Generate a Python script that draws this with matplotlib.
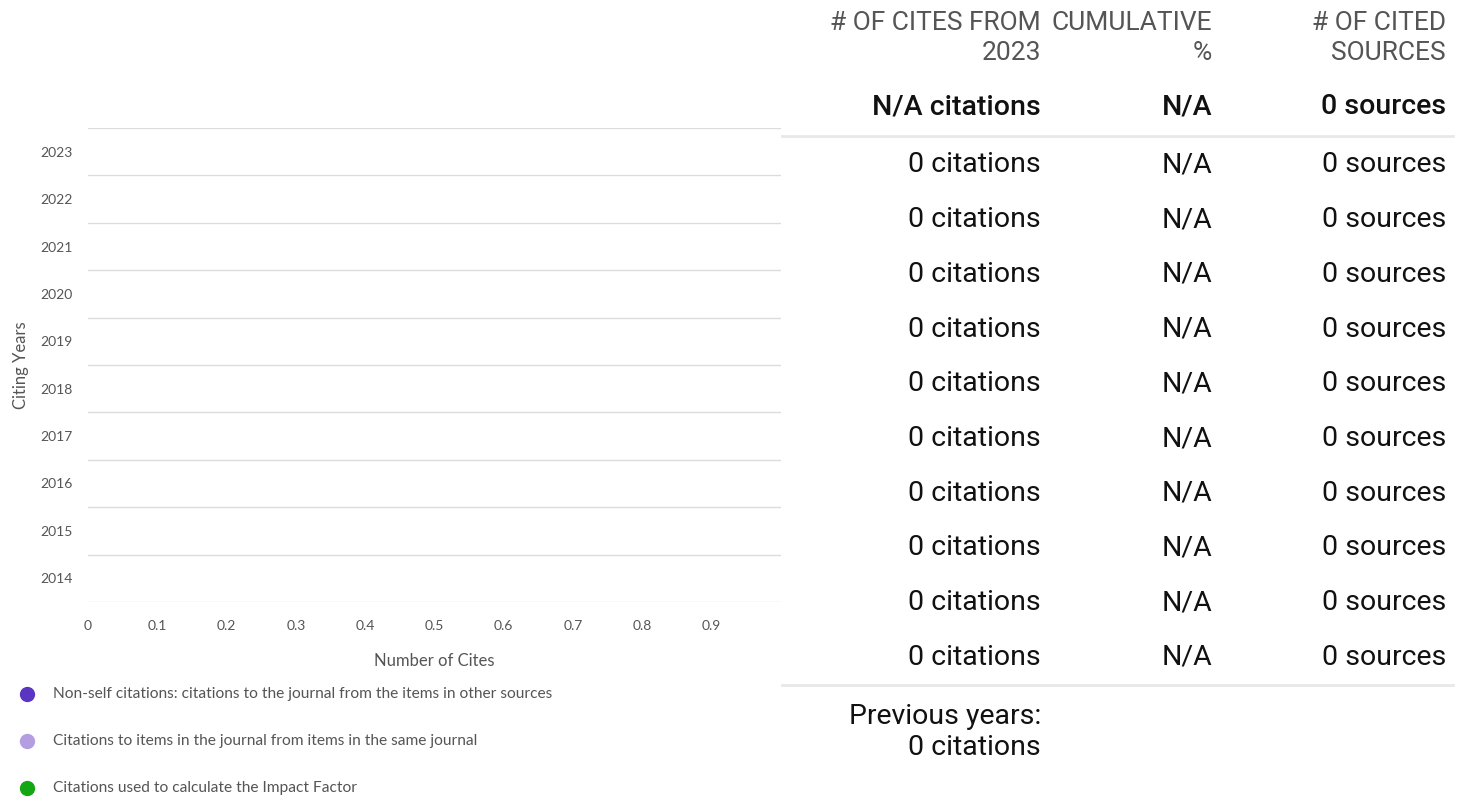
import matplotlib.pyplot as plt
from matplotlib.lines import Line2D

# data
years = [2014, 2015, 2016, 2017, 2018, 2019, 2020, 2021, 2022, 2023]
non_self_cites = [0, 0, 0, 0, 0, 0, 0, 0, 0, 0]
self_cites = [0, 0, 0, 0, 0, 0, 0, 0, 0, 0]
if_cites = [0, 0, 0, 0, 0, 0, 0, 0, 0, 0]

table_years = [2023, 2022, 2021, 2020, 2019, 2018, 2017, 2016, 2015, 2014]
table_cites = [0, 0, 0, 0, 0, 0, 0, 0, 0, 0]
table_cumulative = ["N/A"] * 10
table_sources = [0, 0, 0, 0, 0, 0, 0, 0, 0, 0]
total_cites = "N/A"
total_cumulative = "N/A"
total_sources = 0
previous_cites = 0

legend_labels = [
    "Non-self citations: citations to the journal from the items in other sources",
    "Citations to items in the journal from items in the same journal",
    "Citations used to calculate the Impact Factor",
]
colors = ["#5b34c4", "#b49de0", "#14a714"]

W, H = 1465, 798
fig = plt.figure(figsize=(W / 100, H / 100), dpi=100)


def fx(px):
    return px / W


def fy(py):
    return 1 - py / H


# chart on the left
ax = fig.add_axes([fx(88), fy(602), fx(781) - fx(88), fy(128) - fy(602)])
ypos = list(range(len(years)))
ax.barh(ypos, non_self_cites, color=colors[0], height=0.6)
ax.barh(ypos, self_cites, left=non_self_cites, color=colors[1], height=0.6)
ax.set_xlim(0, 1)
ax.set_ylim(-0.5, len(years) - 0.5)
ax.set_yticks(ypos)
ax.set_yticklabels([str(y) for y in years])
ax.set_yticks([i - 0.5 for i in range(len(years) + 1)], minor=True)
ax.grid(True, axis="y", which="minor", color="#dcdcdc", linewidth=1)
ax.set_xticks([i / 10 for i in range(10)])
ax.set_xticklabels(["0"] + ["%.1f" % (i / 10) for i in range(1, 10)])
for s in ax.spines.values():
    s.set_visible(False)
ax.tick_params(axis="both", which="both", length=0, labelsize=10, colors="#555555")
ax.tick_params(axis="y", pad=11)
ax.tick_params(axis="x", pad=13)
for lab in ax.get_xticklabels() + ax.get_yticklabels():
    lab.set_family("Lato")
ax.set_xlabel("Number of Cites", family="Lato", fontsize=12, color="#555555", labelpad=15)
ax.set_ylabel("Citing Years", family="Lato", fontsize=12, color="#555555", labelpad=8)

# legend
for i, lab in enumerate(legend_labels):
    y = 694 + i * 47
    fig.add_artist(Line2D([fx(27)], [fy(y)], marker="o", markersize=10,
                          color=colors[i], linestyle="none"))
    fig.text(fx(53), fy(y), lab, family="Lato", fontsize=11.2, color="#555555", va="center")

# table on the right
cols = [1041, 1212, 1446]
hdr = ["# OF CITES FROM\n2023", "CUMULATIVE\n%", "# OF CITED\nSOURCES"]
for c, h in zip(cols, hdr):
    fig.text(fx(c), fy(38), h, family="Roboto", fontsize=19, color="#555555",
             ha="right", va="center", linespacing=1.3)

fs = 20.5
fig.text(fx(cols[0]), fy(107), "%s citations" % total_cites, family="Roboto",
         fontweight="medium", fontsize=fs, color="#111111", ha="right", va="center")
fig.text(fx(cols[1]), fy(107), total_cumulative, family="Roboto",
         fontweight="medium", fontsize=fs, color="#111111", ha="right", va="center")
fig.text(fx(cols[2]), fy(107), "%d sources" % total_sources, family="Roboto",
         fontweight="medium", fontsize=fs, color="#111111", ha="right", va="center")
fig.add_artist(Line2D([fx(782), fx(1453)], [fy(136), fy(136)], color="#e8e8e8", linewidth=2))

for i in range(len(table_years)):
    y = 165 + i * 54.7
    fig.text(fx(cols[0]), fy(y), "%d citations" % table_cites[i], family="Roboto",
             fontsize=fs, color="#111111", ha="right", va="center")
    fig.text(fx(cols[1]), fy(y), table_cumulative[i], family="Roboto",
             fontsize=fs, color="#111111", ha="right", va="center")
    fig.text(fx(cols[2]), fy(y), "%d sources" % table_sources[i], family="Roboto",
             fontsize=fs, color="#111111", ha="right", va="center")

fig.add_artist(Line2D([fx(782), fx(1453)], [fy(685), fy(685)], color="#e8e8e8", linewidth=2))
fig.text(fx(cols[0]), fy(732), "Previous years:\n%d citations" % previous_cites,
         family="Roboto", fontsize=fs, color="#111111", ha="right", va="center",
         linespacing=1.2)

fig.savefig("out.png", dpi=100)
